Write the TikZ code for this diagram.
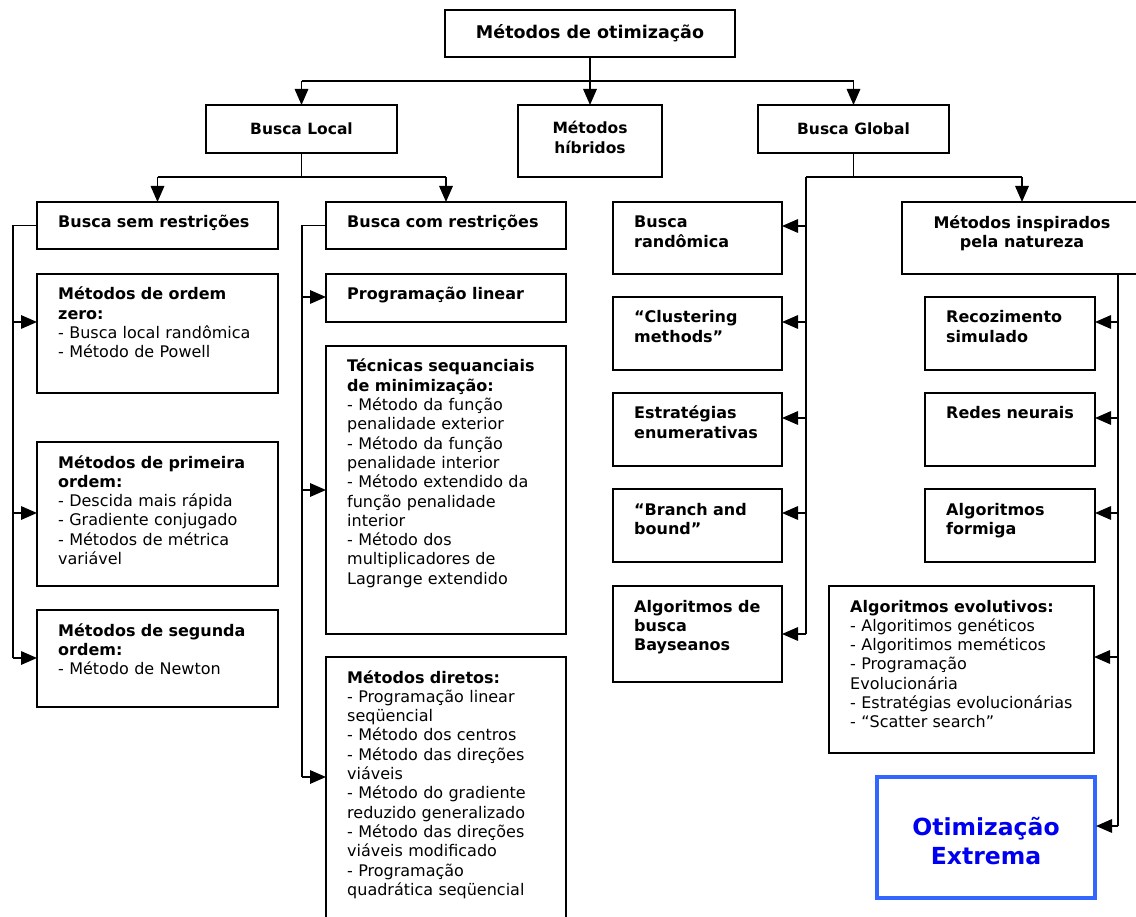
\documentclass[tikz,border=0pt]{standalone}
\usepackage{fontspec}
\setmainfont{DejaVu Sans}
\usetikzlibrary{arrows.meta}
\definecolor{oeblue}{RGB}{51,102,255}
\definecolor{oetext}{RGB}{0,0,240}
\tikzset{
  ln/.style={line width=1.6pt, line join=miter},
  arr/.style={ln, -{Triangle[length=16pt,width=13.5pt]}},
  bx/.style={draw, line width=1.6pt, anchor=north west, inner sep=0pt, outer sep=0pt},
  txt/.style={inner sep=0pt, align=left, font=\fontsize{16pt}{19.3pt}\selectfont},
  ttl/.style={inner sep=0pt, align=center, font=\fontsize{15.5pt}{20pt}\selectfont\bfseries},
}
\newcommand\boxnode[6]{%
  \node[bx, minimum width=#4pt, minimum height=#5pt] (#1) at (#2,#3) {};
  \node[txt, text width=\dimexpr#4pt-21pt\relax, anchor=base west] (#1t)
    at ([xshift=21pt,yshift=-26pt]#1.north west) {#6};}
\begin{document}
\begin{tikzpicture}[x=1pt,y=-1pt]
\useasboundingbox (0,0) rectangle (1136,917);

% ---- top level
\node[bx, minimum width=290pt, minimum height=47pt] (top) at (445,10) {};
\node[ttl, font=\fontsize{17.5pt}{20pt}\selectfont\bfseries] (topt) at (top.center) {Métodos de otimização};
\node[bx, minimum width=191pt, minimum height=48pt] (bl) at (206,105) {};
\node[ttl] (blt) at (bl.center) {Busca Local};
\node[bx, minimum width=144pt, minimum height=72pt] (mh) at (518,105) {};
\node[ttl] (mht) at ([yshift=4pt]mh.center) {Métodos\\híbridos};
\node[bx, minimum width=191pt, minimum height=48pt] (bg) at (758,105) {};
\node[ttl] (bgt) at (bg.center) {Busca Global};

% ---- local search, unconstrained
\boxnode{bsr}{37}{202}{241}{47}{\textbf{Busca sem restrições}}
\boxnode{oz}{37}{274}{241}{119}{\textbf{Métodos de ordem}\\\textbf{zero:}\\- Busca local randômica\\- Método de Powell}
\boxnode{po}{37}{442}{241}{144}{\textbf{Métodos de primeira}\\\textbf{ordem:}\\- Descida mais rápida\\- Gradiente conjugado\\- Métodos de métrica\\variável}
\boxnode{so}{37}{610}{241}{97}{\textbf{Métodos de segunda}\\\textbf{ordem:}\\- Método de Newton}

% ---- local search, constrained
\boxnode{bcr}{326}{202}{240}{47}{\textbf{Busca com restrições}}
\boxnode{pl}{326}{274}{240}{48}{\textbf{Programação linear}}
\boxnode{tsm}{326}{346}{240}{288}{\textbf{Técnicas sequanciais}\\\textbf{de minimização:}\\- Método da função\\penalidade exterior\\- Método da função\\penalidade interior\\- Método extendido da\\função penalidade\\interior\\- Método dos\\multiplicadores de\\Lagrange extendido}
\boxnode{md}{326}{657}{240}{264}{\textbf{Métodos diretos:}\\- Programação linear\\seqüencial\\- Método dos centros\\- Método das direções\\viáveis\\- Método do gradiente\\reduzido generalizado\\- Método das direções\\viáveis modificado\\- Programação\\quadrática seqüencial}

% ---- global search
\boxnode{br}{613}{202}{169}{72}{\textbf{Busca}\\\textbf{randômica}}
\boxnode{cm}{613}{297}{169}{73}{\textbf{“Clustering}\\\textbf{methods”}}
\boxnode{ee}{613}{393}{169}{73}{\textbf{Estratégias}\\\textbf{enumerativas}}
\boxnode{bb}{613}{489}{169}{73}{\textbf{“Branch and}\\\textbf{bound”}}
\boxnode{ab}{613}{586}{169}{96}{\textbf{Algoritmos de}\\\textbf{busca}\\\textbf{Bayseanos}}

% ---- nature inspired
\node[bx, minimum width=240pt, minimum height=72pt] (mi) at (902,202) {};
\node[ttl, font=\fontsize{16pt}{19.5pt}\selectfont\bfseries] (mit) at ([yshift=4.5pt]mi.center) {Métodos inspirados\\pela natureza};
\boxnode{rs}{925}{297}{170}{73}{\textbf{Recozimento}\\\textbf{simulado}}
\boxnode{rn}{925}{393}{170}{73}{\textbf{Redes neurais}}
\boxnode{af}{925}{489}{170}{73}{\textbf{Algoritmos}\\\textbf{formiga}}
\boxnode{ae}{829}{586}{265}{167}{\textbf{Algoritmos evolutivos:}\\- Algoritimos genéticos\\- Algoritimos meméticos\\- Programação\\Evolucionária\\- Estratégias evolucionárias\\- “Scatter search”}
\node[bx, draw=oeblue, line width=3.3pt, minimum width=218pt, minimum height=121pt] (oe) at (877,777) {};
\node[inner sep=0pt, align=center, text=oetext, font=\fontsize{23.5pt}{29pt}\selectfont\bfseries] (oet) at ([yshift=-4pt]oe.center) {Otimização\\Extrema};

% ---- junction coordinates
\coordinate (ja) at (0,81);
\coordinate (jb) at (0,177);
\coordinate (sl) at (13,0);
\coordinate (sm) at (302,0);
\coordinate (sg) at (806,0);
\coordinate (sn) at (1118,0);

% ---- top connectors
\draw[ln] (top.south) -- (top.south |- ja);
\draw[ln] (bl.north |- ja) -- (bg.north |- ja);
\draw[arr] (bl.north |- ja) -- (bl.north);
\draw[arr] (top.south |- ja) -- (mh.north);
\draw[arr] (bg.north |- ja) -- (bg.north);

% ---- local search connectors
\draw[ln] (bl.south) -- (bl.south |- jb);
\draw[ln] (bsr.north |- jb) -- (bcr.north |- jb);
\draw[arr] (bsr.north |- jb) -- (bsr.north);
\draw[arr] (bcr.north |- jb) -- (bcr.north);

% left spine
\draw[ln] (bsr.west) -| (sl |- 0,658);
\draw[arr] (sl |- 0,322) -- (oz.west |- 0,322);
\draw[arr] (sl |- 0,513) -- (po.west |- 0,513);
\draw[arr] (sl |- 0,658) -- (so.west |- 0,658);

% middle spine
\draw[ln] (bcr.west) -| (sm |- 0,777);
\draw[arr] (sm |- 0,297) -- (pl.west |- 0,297);
\draw[arr] (sm |- 0,490) -- (tsm.west |- 0,490);
\draw[arr] (sm |- 0,777) -- (md.west |- 0,777);

% ---- global search connectors
\draw[ln] (bg.south) -- (bg.south |- jb);
\draw[ln] (sg |- jb) -- (mi.north |- jb);
\draw[arr] (mi.north |- jb) -- (mi.north);
\draw[ln] (sg |- jb) -- (sg |- 0,634);
\draw[arr] (sg |- 0,226) -- (br.east |- 0,226);
\draw[arr] (sg |- 0,322) -- (cm.east |- 0,322);
\draw[arr] (sg |- 0,418) -- (ee.east |- 0,418);
\draw[arr] (sg |- 0,513) -- (bb.east |- 0,513);
\draw[arr] (sg |- 0,634) -- (ab.east |- 0,634);

% nature spine
\draw[ln] (mi.south -| sn) -- (sn |- 0,826);
\draw[arr] (sn |- 0,322) -- (rs.east |- 0,322);
\draw[arr] (sn |- 0,418) -- (rn.east |- 0,418);
\draw[arr] (sn |- 0,513) -- (af.east |- 0,513);
\draw[arr] (sn |- 0,657) -- (ae.east |- 0,657);
\draw[arr] (sn |- 0,826) -- ([xshift=1pt]oe.east |- 0,826);
\end{tikzpicture}
\end{document}
